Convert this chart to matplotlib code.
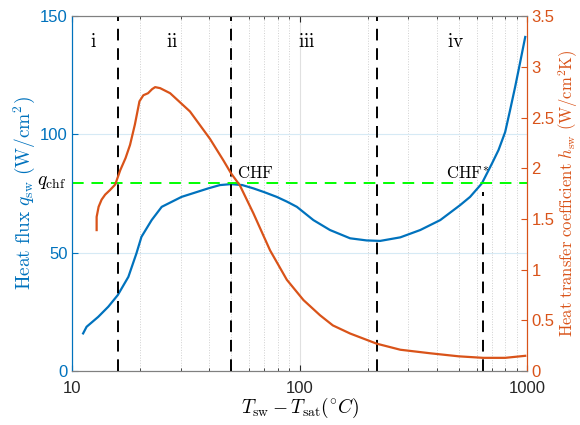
import matplotlib
matplotlib.use("Agg")
from matplotlib import pyplot as plt
from matplotlib.ticker import LogLocator, NullFormatter
import numpy as np

plt.rcParams['font.family'] = ['Liberation Sans', 'DejaVu Sans']
plt.rcParams['mathtext.fontset'] = 'cm'

# heat flux curve q_sw (left axis)
q_dT = [11.2, 11.6, 13.05, 14.45, 15.9, 17.7, 19.2, 20.2, 22.4, 24.8, 30.3,
        39.7, 44.7, 50.0, 56.0, 62.7, 70.0, 79.4, 88.0, 97.3, 115, 136, 166.7,
        197, 226, 277, 339, 415, 507, 561, 632, 700, 748, 800, 841, 885, 931, 980]
q_sw = [15.9, 18.7, 22.9, 27.2, 32.1, 39.8, 49.7, 56.7, 63.8, 69.4, 73.6,
        77.2, 78.6, 79.0, 78.6, 77.2, 75.6, 73.6, 71.6, 69.4, 63.8, 59.6, 56.1,
        55.2, 55.0, 56.5, 59.6, 63.8, 70.1, 73.6, 79.3, 87.7, 93.4, 101.0, 110.3, 120.1, 130.5, 141.2]

# heat transfer coefficient h_sw (right axis)
h_dT = [12.84, 12.84, 13.1, 13.5, 14.0, 14.7, 15.5, 16.3, 17.2, 18.0, 18.9,
        19.8, 20.6, 21.6, 22.5, 23.2, 24.4, 27.0, 33.0, 40.4, 46.2, 50.0, 54.7,
        62.7, 74.2, 87.9, 104, 123, 140, 166.7, 218, 277, 375, 500, 640, 800, 980]
h_sw = [1.39, 1.52, 1.62, 1.69, 1.74, 1.785, 1.84, 1.98, 2.10, 2.23, 2.43,
        2.66, 2.72, 2.74, 2.78, 2.80, 2.79, 2.74, 2.56, 2.29, 2.08, 1.95, 1.83,
        1.555, 1.19, 0.90, 0.70, 0.55, 0.45, 0.37, 0.27, 0.21, 0.175, 0.145, 0.13, 0.13, 0.15]

regime_x = [15.9, 50, 218]
chf_star_x = 638
q_chf = 79.5
regime_names = ['i', 'ii', 'iii', 'iv']
regime_pos = [12.4, 27.5, 108, 483]

blue = '#0072BD'
orange = '#D95319'

fig = plt.figure(figsize=(5.8, 4.25), dpi=100)
ax1 = fig.add_axes([0.124, 0.127, 0.785, 0.835])
ax2 = ax1.twinx()

ax1.set_xscale('log')
ax1.set_xlim(10, 1000)
ax1.set_ylim(0, 150)
ax2.set_ylim(0, 3.5)

# grid
ax1.xaxis.set_minor_locator(LogLocator(base=10, subs=np.arange(2, 10)))
ax1.xaxis.set_minor_formatter(NullFormatter())
ax1.grid(True, which='major', axis='x', color='#e0e0e0', lw=0.8)
ax1.grid(True, which='minor', axis='x', color='#d0d0d0', lw=0.7, ls=':')
ax1.grid(True, which='major', axis='y', color='#d6eaf5', lw=0.8)
ax1.set_axisbelow(True)

ax1.plot(q_dT, q_sw, color=blue, lw=1.6, zorder=3, solid_joinstyle='round')
ax2.plot(h_dT, h_sw, color=orange, lw=1.6, zorder=3, solid_joinstyle='round')

for xv in regime_x:
    ax1.axvline(xv, color='k', ls=(0, (6, 4)), lw=1.4, zorder=4)
ax1.plot([chf_star_x, chf_star_x], [0, q_chf - 4], color='k', ls=(0, (6, 4)), lw=1.4, zorder=4)
ax1.axhline(q_chf, color='#00FF00', ls=(0, (6, 4)), lw=1.4, zorder=4)

for name, xp in zip(regime_names, regime_pos):
    ax1.text(xp, 139, '$\\mathrm{' + name + '}$', ha='center', va='center', fontsize=14)
ax1.text(53, 83.5, r'$\mathrm{CHF}$', ha='left', va='center', fontsize=12)
ax1.text(440, 83.5, r'$\mathrm{CHF^{*}}$', ha='left', va='center', fontsize=12)
ax1.text(-0.012, q_chf, r'$q_{\rm chf}$', ha='right', va='center', fontsize=14,
         transform=ax1.get_yaxis_transform(), clip_on=False)

ax1.set_yticks([0, 50, 100, 150])
ax2.set_yticks([0, 0.5, 1, 1.5, 2, 2.5, 3, 3.5])
ax2.set_yticklabels(['0', '0.5', '1', '1.5', '2', '2.5', '3', '3.5'])
ax1.set_xticks([10, 100, 1000])
ax1.set_xticklabels(['10', '100', '1000'])

ax1.tick_params(axis='x', which='both', direction='in', top=True, colors='#262626',
                labelsize=12, length=4, pad=7)
ax1.tick_params(axis='x', which='minor', length=2.5)
ax1.tick_params(axis='y', direction='in', colors=blue, labelsize=12, length=4, pad=3)
ax2.tick_params(axis='y', direction='in', colors=orange, labelsize=12, length=4, pad=3)

for a in (ax1, ax2):
    a.spines['top'].set_color('#808080')
    a.spines['bottom'].set_color('#808080')
    a.spines['left'].set_color(blue)
    a.spines['right'].set_color(orange)

ax1.set_ylabel(r'$\mathrm{Heat\ flux}\ q_{\rm sw}\ (\mathrm{W/cm^2})$', color=blue, fontsize=14, labelpad=2)
ax2.set_ylabel(r'$\mathrm{Heat\ transfer\ coefficient}\ h_{\rm sw}\ (\mathrm{W/cm^2K})$', color=orange,
               fontsize=12, labelpad=1)
ax1.set_xlabel(r'$T_{\rm sw} - T_{\rm sat} (^{\circ}C)$', fontsize=14, labelpad=0)

fig.savefig('out.png', dpi=100)
